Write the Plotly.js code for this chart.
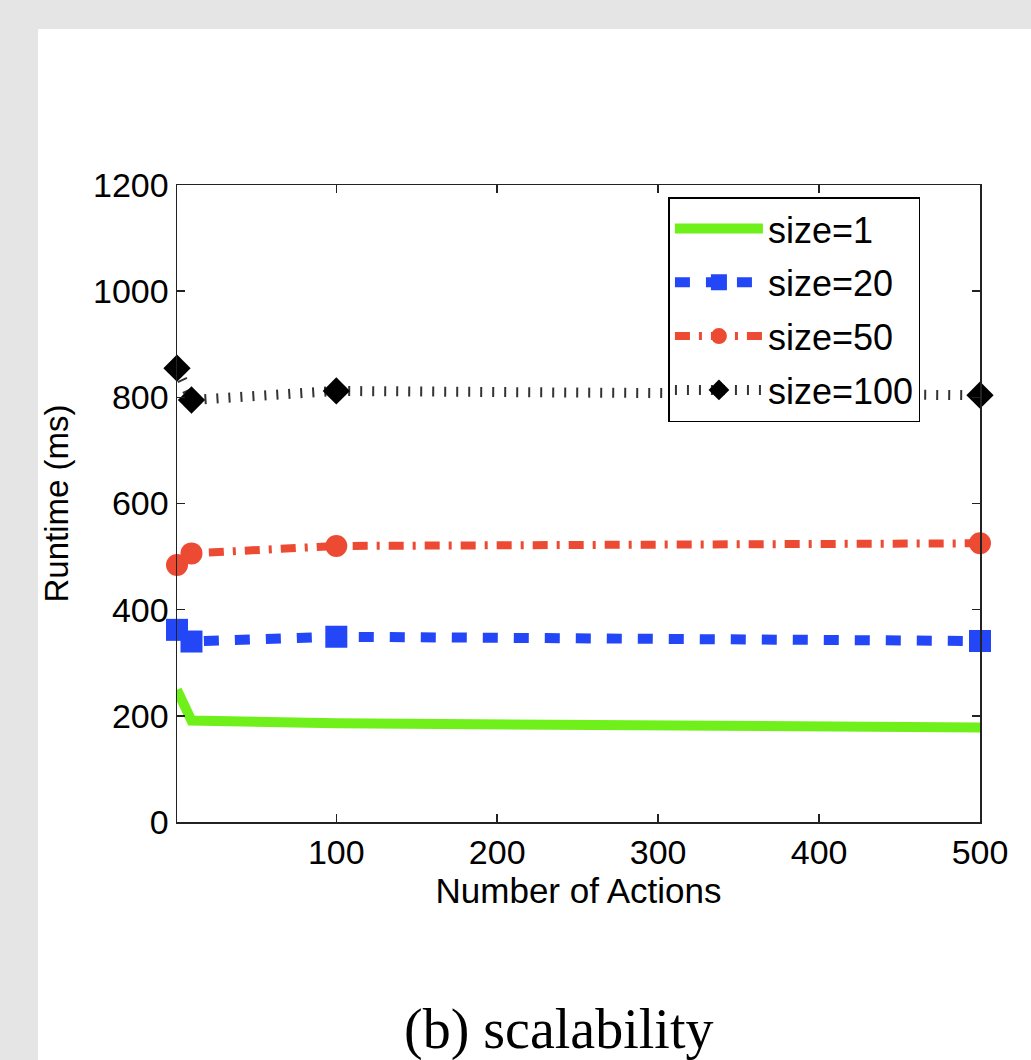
<!DOCTYPE html>
<html>
<head>
<meta charset="utf-8">
<script src="https://cdn.plot.ly/plotly-3.0.1.min.js"></script>
<style>
  html, body { margin: 0; padding: 0; background: #e5e5e5; }
  #chart { width: 1031px; height: 1060px; }
</style>
</head>
<body>
<div id="chart"></div>
<script>
// Data
const actions = [1, 10, 100, 500];
const size1   = [249, 191, 186, 178];
const size20  = [362, 340, 349, 341];
const size50  = [484, 506, 520, 525];
const size100 = [855, 795, 812, 804];
const seriesNames = ['size=1', 'size=20', 'size=50', 'size=100'];
const xTicks = [100, 200, 300, 400, 500];
const yTicks = [0, 200, 400, 600, 800, 1000, 1200];
const xTitle = 'Number of Actions';
const yTitle = 'Runtime (ms)';
const caption = '(b) scalability';

const traces = [
  {
    x: actions, y: size1, name: seriesNames[0], legendgroup: 'a',
    mode: 'lines', type: 'scatter', cliponaxis: false,
    line: { color: '#6ff01a', width: 10 }
  },
  {
    x: actions, y: size20, name: seriesNames[1], legendgroup: 'b',
    mode: 'lines+markers', type: 'scatter', cliponaxis: false,
    line: { color: '#2346f7', width: 10, dash: '15px,16px' },
    marker: { symbol: 'square', size: 22, color: '#2346f7' }
  },
  {
    x: actions, y: size50, name: seriesNames[2], legendgroup: 'c',
    mode: 'lines+markers', type: 'scatter', cliponaxis: false,
    line: { color: '#ec4a32', width: 8, dash: '15px,9px,3px,9px' },
    marker: { symbol: 'circle', size: 22, color: '#ec4a32' }
  },
  {
    x: actions, y: size100, name: seriesNames[3], legendgroup: 'd',
    mode: 'lines+markers', type: 'scatter', cliponaxis: false,
    line: { color: '#333333', width: 10, dash: '2px,10px' },
    marker: { symbol: 'diamond', size: 21, color: '#000000' }
  }
];

const axisCommon = {
  showgrid: false, zeroline: false,
  showline: true, linecolor: '#222', linewidth: 1.5,
  mirror: 'ticks', ticks: 'inside', ticklen: 8, tickwidth: 1.5, tickcolor: '#222',
  tickfont: { family: 'Liberation Sans, Arial, sans-serif', size: 34, color: '#000' }
};

const layout = {
  width: 1031, height: 1060,
  margin: { l: 177, r: 51, t: 185, b: 238, pad: 0 },
  paper_bgcolor: '#e5e5e5',
  plot_bgcolor: '#ffffff',
  font: { family: 'Liberation Sans, Arial, sans-serif', color: '#000' },
  showlegend: true,
  xaxis: Object.assign({}, axisCommon, {
    range: [1, 500], tickvals: xTicks, ticktext: xTicks.map(String),
    ticklabelstandoff: 0,
    title: { text: xTitle, font: { size: 35, family: 'Liberation Sans, Arial, sans-serif' }, standoff: 0 }
  }),
  yaxis: Object.assign({}, axisCommon, {
    range: [0, 1200], tickvals: yTicks, ticktext: yTicks.map(String),
    ticklabelstandoff: 0,
    title: { text: yTitle, font: { size: 33, family: 'Liberation Sans, Arial, sans-serif' }, standoff: 14 }
  }),
  legend: {
    x: 0.612, y: 0.981, xanchor: 'left', yanchor: 'top',
    bgcolor: '#ffffff', bordercolor: '#000', borderwidth: 1.5,
    font: { size: 36, family: 'Liberation Sans, Arial, sans-serif', color: '#000' },
    itemwidth: 88, tracegroupgap: 4
  },
  shapes: [
    {
      type: 'rect', xref: 'paper', yref: 'paper', layer: 'below',
      x0: -0.1731, x1: 1.2, y0: -0.5, y1: 1.2449,
      fillcolor: '#ffffff', line: { width: 0 }
    }
  ],
  annotations: [
    {
      text: caption, xref: 'paper', yref: 'paper', x: 0.4745, y: -0.325,
      xanchor: 'center', yanchor: 'middle', showarrow: false,
      font: { family: 'Liberation Serif, Times New Roman, serif', size: 56, color: '#000' }
    }
  ]
};

Plotly.newPlot('chart', traces, layout, { displayModeBar: false, staticPlot: true });
</script>
</body>
</html>
